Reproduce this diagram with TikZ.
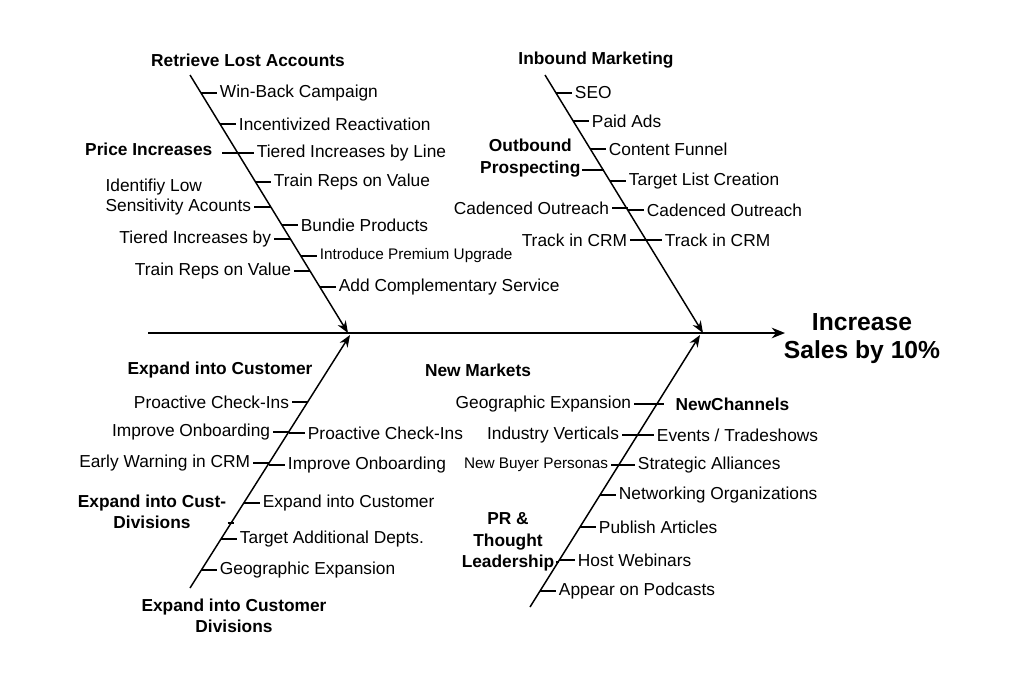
\documentclass[tikz,border=0pt]{standalone}
\usepackage{fontspec}
\setmainfont{Liberation Sans}
\usetikzlibrary{arrows.meta}
\begin{document}
\begin{tikzpicture}[x=0.75pt,y=-0.75pt,
  lab/.style={font=\fontsize{13}{15}\selectfont,inner sep=2pt},
  sm/.style={font=\fontsize{11.5}{14}\selectfont},
  hd/.style={font=\fontsize{13}{16}\selectfont\bfseries,align=center,inner sep=1pt},
  ln/.style={line width=1.1pt},
  tk/.style={line width=0.9pt},
  R/.style={lab,anchor=west},
  L/.style={lab,anchor=east}]
\useasboundingbox (0,0) rectangle (1024,683);
% spine
\coordinate (s0) at (148,333);
\coordinate (s1) at (785,333);
\draw[ln,-{Stealth[length=10pt,width=8pt]}] (s0) -- (s1);
\node[font=\fontsize{18.5}{21}\selectfont\bfseries,align=center] (head) at (862,339) {Increase\\Sales by 10\%};
% bones
\coordinate (a0) at (190,75); \coordinate (a1) at (348,333);
\coordinate (b0) at (545,75); \coordinate (b1) at (703,333);
\coordinate (c0) at (190,588); \coordinate (c1) at (350,335);
\coordinate (d0) at (530,607); \coordinate (d1) at (700,335);
\foreach \p/\q in {a0/a1,b0/b1,c0/c1,d0/d1} \draw[ln,-{Stealth[length=9pt,width=7pt]}] (\p) -- (\q);
% titles
\node[hd] (ta) at (248,60) {Retrieve Lost Accounts};
\node[hd] (tb) at (596,60) {Inbound Marketing};
\node[hd] (tc) at (220,370) {Expand into Customer};
\node[hd] (tc2) at (234,616) {Expand into Customer\\Divisions};
\node[hd] (td) at (478,370) {New Markets};
\newcommand\RT[5][]{\node[R,#1] (#2) at (#3+16,#4) {#5}; \draw[tk] (#3,#4) -- (#2.west);}
\newcommand\LT[5][]{\node[L,#1] (#2) at (#3-16,#4) {#5}; \draw[tk] (#3,#4) -- (#2.east);}
% top-left
\RT{a1r}{201}{93}{Win-Back Campaign}
\RT{a2r}{220}{124}{Incentivized Reactivation}
\RT{a3r}{238}{153}{Tiered Increases by Line}
\node[hd,anchor=east] (pi) at (214,149) {Price Increases};
\draw[tk] (pi.east)++(8,4) -- (238,153);
\RT{a4r}{255}{182}{Train Reps on Value}
\node[lab,align=left,anchor=east] (a5l) at (254,197) {Identifiy Low\\Sensitivity Acounts};
\draw[tk] (a5l.east|-0,207) -- (271,207);
\RT{a6r}{282}{225}{Bundie Products}
\LT{a7l}{290}{239}{Tiered Increases by}
\RT[sm]{a8r}{301}{256}{Introduce Premium Upgrade}
\LT{a9l}{310}{271}{Train Reps on Value}
\RT{a10r}{320}{287}{Add Complementary Service}
% top-right
\RT{b1r}{556}{93}{SEO}
\RT{b2r}{573}{121}{Paid Ads}
\RT{b3r}{590}{149}{Content Funnel}
\node[hd,anchor=east] (op) at (582,158) {Outbound\\Prospecting};
\draw[tk] (op.east|-0,170) -- (604,170);
\RT{b4r}{610}{181}{Target List Creation}
\RT{b5r}{628}{210}{Cadenced Outreach}
\LT{b5l}{628}{208}{Cadenced Outreach}
\RT{b6r}{646}{240}{Track in CRM}
\LT{b6l}{646}{240}{Track in CRM}
% bottom-left
\LT{c1l}{308}{402}{Proactive Check-Ins}
\LT{c2l}{289}{432}{Improve Onboarding}
\RT{c2r}{289}{433}{Proactive Check-Ins}
\LT{c3l}{269}{463}{Early Warning in CRM}
\RT{c3r}{269}{465}{Improve Onboarding}
\RT{c4r}{244}{503}{Expand into Customer}
\node[hd] (ecd) at (152,512) {Expand into Cust-\\Divisions};
\draw[tk] (ecd.east|-0,523) -- (234,523);
\RT{c5r}{221}{539}{Target Additional Depts.}
\RT{c6r}{201}{570}{Geographic Expansion}
% bottom-right
\LT{d1l}{650}{404}{Geographic Expansion}
\draw[tk] (642,404) -- (664,404);
\node[hd,anchor=west] (nc) at (674,404) {NewChannels};
\RT{d2r}{638}{435}{Events / Tradeshows}
\LT{d2l}{638}{435}{Industry Verticals}
\RT{d3r}{619}{465}{Strategic Alliances}
\LT[sm]{d3l}{627}{465}{New Buyer Personas}
\RT{d4r}{600}{495}{Networking Organizations}
\RT{d5r}{580}{527}{Publish Articles}
\RT{d6r}{559}{560}{Host Webinars}
\node[hd] (pr) at (508,542) {PR \&\\Thought\\Leadership};
\draw[tk] (pr.east|-0,562) -- (559,562);
\RT{d7r}{540}{591}{Appear on Podcasts}
\end{tikzpicture}
\end{document}
